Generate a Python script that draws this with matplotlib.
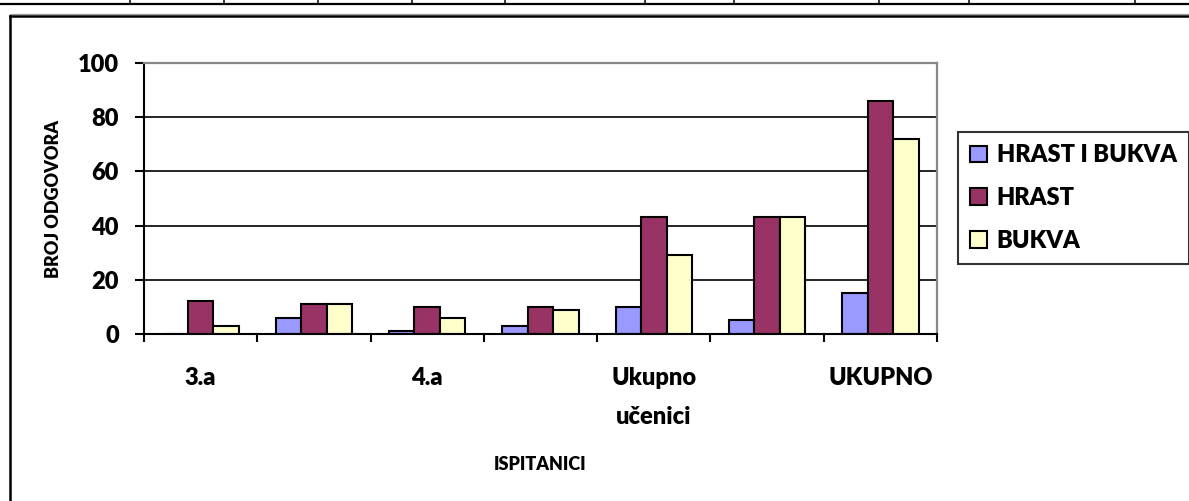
import numpy as np
import matplotlib
matplotlib.use("Agg")
import matplotlib.pyplot as plt
from matplotlib.lines import Line2D

# ---- data ----
categories = ["3.a", "", "4.a", "", "Ukupno\nučenici", "", "UKUPNO"]
series_names = ["HRAST I BUKVA", "HRAST", "BUKVA"]
hrast_i_bukva = [0, 6, 1, 3, 10, 5, 15]
hrast = [12, 11, 10, 10, 43, 43, 86]
bukva = [3, 11, 6, 9, 29, 43, 72]
y_ticks = [0, 20, 40, 60, 80, 100]
colors = ["#9999FF", "#993366", "#FFFFCC"]

FONT = 'Lato'
WEIGHT = 'heavy'
plt.rcParams['font.family'] = FONT
plt.rcParams['font.weight'] = WEIGHT

W, H = 1189, 501
fig = plt.figure(figsize=(W / 100, H / 100), dpi=100)

def fx(px):
    return px / W

def fy(py):
    return 1 - py / H

# decorative page elements: table line at top and chart-area frame
fig.add_artist(Line2D([0, 1], [fy(3.5), fy(3.5)], color='black', lw=1.6))
for xp in [130, 224, 318, 412, 505, 645, 734, 879, 969, 1135]:
    fig.add_artist(Line2D([fx(xp), fx(xp)], [fy(0), fy(3.5)], color='black', lw=1.1))
fig.add_artist(Line2D([fx(10), 1], [fy(13.6), fy(13.6)], color='#999999', lw=0.9))
fig.add_artist(Line2D([fx(10), 1], [fy(15.5), fy(15.5)], color='black', lw=1.8))
fig.add_artist(Line2D([fx(10), fx(10)], [fy(15.5), 0], color='black', lw=1.8))

ax = fig.add_axes([fx(144), fy(334), fx(937 - 144), (334 - 63) / H])

x = np.arange(len(categories))
width = 0.225
all_series = [hrast_i_bukva, hrast, bukva]
for i, (vals, col, name) in enumerate(zip(all_series, colors, series_names)):
    ax.bar(x + (i - 1) * width, vals, width, color=col, edgecolor='black',
           linewidth=1.5, label=name, zorder=3)

ax.set_xlim(-0.5, len(categories) - 0.5)
ax.set_ylim(y_ticks[0], y_ticks[-1])
for yv in y_ticks[1:-1]:
    ax.axhline(yv, color='black', lw=1.2, zorder=1)

# spines
ax.spines['left'].set_color('black')
ax.spines['left'].set_linewidth(1.5)
ax.spines['bottom'].set_color('black')
ax.spines['bottom'].set_linewidth(1.5)
ax.spines['bottom'].set_zorder(4)
ax.spines['top'].set_color('#888888')
ax.spines['top'].set_linewidth(1.6)
ax.spines['right'].set_color('#888888')
ax.spines['right'].set_linewidth(1.6)

tick_font = dict(family=FONT, weight=WEIGHT, size=17)

# ticks
ax.set_xticks(np.arange(-0.5, len(categories), 1))
ax.set_xticklabels([])
ax.set_xticks(x, categories, minor=True, fontdict=tick_font)
ax.tick_params(axis='x', which='major', direction='out', length=6, width=1.5)
ax.tick_params(axis='x', which='minor', length=0, pad=23.5)
ax.set_yticks(y_ticks, [str(v) for v in y_ticks], fontdict=tick_font)
ax.tick_params(axis='y', direction='out', length=6.5, width=1.5, pad=11.5)
for lab in ax.get_xticklabels(minor=True):
    lab.set_linespacing(1.95)

ax.set_ylabel("BROJ ODGOVORA", fontsize=13, fontweight=WEIGHT, family=FONT)
ax.yaxis.set_label_coords((54 - 144) / 793, 0.5)
ax.yaxis.label.set_verticalalignment('center')
ax.set_xlabel("ISPITANICI", fontsize=13, fontweight=WEIGHT, family=FONT)
ax.xaxis.set_label_coords(0.5, (334 - 465) / 271)
ax.xaxis.label.set_verticalalignment('center')

leg = fig.legend(loc='upper left', bbox_to_anchor=(fx(958), fy(132)),
                 borderaxespad=0, frameon=True, fancybox=False,
                 prop=dict(family=FONT, weight=WEIGHT, size=17),
                 handlelength=0.72, handleheight=0.72, handletextpad=0.4,
                 labelspacing=0.88, borderpad=0.52)
leg.get_frame().set_edgecolor('black')
leg.get_frame().set_linewidth(1.5)

fig.savefig("out.png", dpi=100)
